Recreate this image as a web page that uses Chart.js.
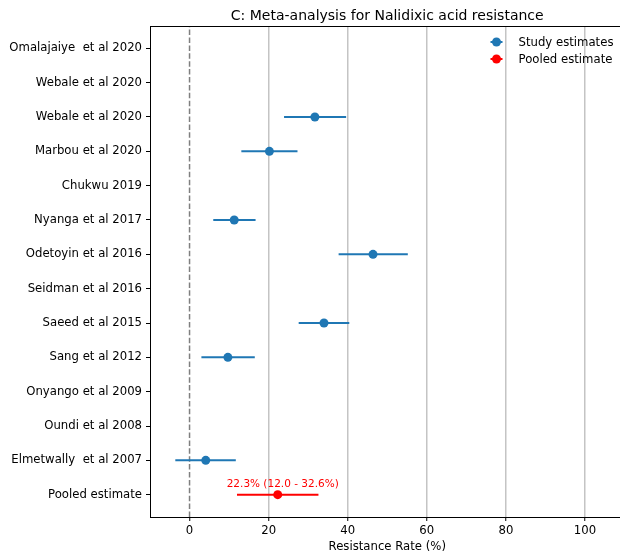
<!DOCTYPE html>
<html>
<head>
<meta charset="utf-8">
<script src="https://cdn.jsdelivr.net/npm/chart.js@4"></script>
<style>
  html, body { margin: 0; padding: 0; background: #fff; overflow: hidden; }
  #wrap { width: 629px; height: 555px; }
</style>
</head>
<body>
<div id="wrap"><canvas id="forest" width="629" height="555" style="width:629px;height:555px"></canvas></div>
<script>
const TITLE = 'C: Meta-analysis for Nalidixic acid resistance';
const X_LABEL = 'Resistance Rate (%)';
const FONT = 'DejaVu Sans';
const BLUE = '#1f77b4';
const RED = '#ff0000';

// rows from top to bottom
const studyNames = [
    'Omalajaiye  et al 2020', 'Webale et al 2020', 'Webale et al 2020', 'Marbou et al 2020',
    'Chukwu 2019', 'Nyanga et al 2017', 'Odetoyin et al 2016', 'Seidman et al 2016',
    'Saeed et al 2015', 'Sang et al 2012', 'Onyango et al 2009', 'Oundi et al 2008',
    'Elmetwally  et al 2007'
];
const studyEst  = [null, null, 31.7, 20.2, null, 11.3, 46.4, null, 34.0,  9.7, null, null,  4.1];
const studyLow  = [null, null, 23.9, 13.1, null,  6.0, 37.7, null, 27.6,  3.0, null, null, -3.6];
const studyHigh = [null, null, 39.6, 27.3, null, 16.7, 55.2, null, 40.4, 16.5, null, null, 11.7];

const pooledName = 'Pooled estimate';
const pooledEst = 22.3;
const pooledLow = 12.0;
const pooledHigh = 32.6;

const xTickValues = [0, 20, 40, 60, 80, 100];
const X_MIN = -10, X_MAX = 110;

const rowLabels = [...studyNames, pooledName];
const nRows = rowLabels.length;
const Y_MIN = -0.65, Y_MAX = nRows - 1 + 0.65;
const rowY = i => nRows - 1 - i;

const studyPts = [], studyBars = [];
studyEst.forEach((v, i) => {
    if (v === null) return;
    studyPts.push({ x: v, y: rowY(i) });
    studyBars.push({ x: studyLow[i], y: rowY(i) }, { x: studyHigh[i], y: rowY(i) });
});
const pooledY = rowY(nRows - 1);

// only every other segment is a bar, the rest join rows and stay hidden
const barSegment = color => ({ borderColor: c => (c.p0DataIndex % 2 === 0 ? color : 'rgba(0,0,0,0)') });

const frameAndText = {
    id: 'frameAndText',
    afterDraw(chart) {
        const { ctx, chartArea: a, scales } = chart;
        ctx.save();
        // top spine
        ctx.strokeStyle = '#000';
        ctx.lineWidth = 1;
        ctx.beginPath();
        ctx.moveTo(a.left, a.top + 0.5);
        ctx.lineTo(a.right, a.top + 0.5);
        ctx.stroke();

        // title
        ctx.fillStyle = '#000';
        ctx.font = `14px "${FONT}"`;
        ctx.textAlign = 'center';
        ctx.textBaseline = 'alphabetic';
        ctx.fillText(TITLE, (a.left + a.right) / 2, a.top - 6);

        // pooled annotation
        ctx.fillStyle = RED;
        ctx.font = `10.5px "${FONT}"`;
        ctx.textBaseline = 'middle';
        ctx.fillText(`${pooledEst.toFixed(1)}% (${pooledLow.toFixed(1)} - ${pooledHigh.toFixed(1)}%)`,
            scales.x.getPixelForValue(pooledEst) + 5, scales.y.getPixelForValue(pooledY) - 10);

        // legend
        const items = chart.data.datasets.filter(d => d.legendText);
        ctx.font = `11.7px "${FONT}"`;
        ctx.textAlign = 'left';
        items.forEach((d, k) => {
            const mx = a.right - 128, my = a.top + 16 + k * 17;
            ctx.strokeStyle = d.backgroundColor;
            ctx.lineWidth = 2;
            ctx.beginPath();
            ctx.moveTo(mx - 6, my);
            ctx.lineTo(mx + 6, my);
            ctx.stroke();
            ctx.fillStyle = d.backgroundColor;
            ctx.beginPath();
            ctx.arc(mx, my, 4.5, 0, Math.PI * 2);
            ctx.fill();
            ctx.fillStyle = '#000';
            ctx.fillText(d.legendText, a.right - 106, my + 0.5);
        });
        ctx.restore();
    }
};

const chart = new Chart(document.getElementById('forest'), {
    type: 'scatter',
    data: {
        datasets: [{
            legendText: 'Study estimates',
            data: studyPts,
            backgroundColor: BLUE,
            borderColor: BLUE,
            pointRadius: 4.5,
            pointBorderWidth: 0,
            order: 1
        }, {
            legendText: 'Pooled estimate',
            data: [{ x: pooledEst, y: pooledY }],
            backgroundColor: RED,
            borderColor: RED,
            pointRadius: 4.5,
            pointBorderWidth: 0,
            order: 1
        }, {
            type: 'line',
            data: studyBars,
            borderColor: BLUE,
            borderWidth: 2,
            pointRadius: 0,
            segment: barSegment(BLUE),
            order: 2
        }, {
            type: 'line',
            data: [{ x: pooledLow, y: pooledY }, { x: pooledHigh, y: pooledY }],
            borderColor: RED,
            borderWidth: 2,
            pointRadius: 0,
            order: 2
        }, {
            type: 'line',
            data: [{ x: 0, y: Y_MIN }, { x: 0, y: Y_MAX }],
            borderColor: '#7f7f7f',
            borderWidth: 1.5,
            borderDash: [5.5, 2.4],
            pointRadius: 0,
            order: 3
        }]
    },
    options: {
        responsive: false,
        animation: false,
        layout: { padding: { top: 26, left: 0, right: 0, bottom: 0 } },
        plugins: {
            legend: { display: false },
            tooltip: { enabled: false },
            title: { display: false }
        },
        scales: {
            x: {
                type: 'linear',
                min: X_MIN,
                max: X_MAX,
                afterBuildTicks: s => { s.ticks = xTickValues.map(v => ({ value: v })); },
                afterFit: s => { s.height = 38; },
                ticks: { color: '#000', padding: 3, maxRotation: 0, font: { family: FONT, size: 11.7 } },
                grid: {
                    color: c => (c.tick && c.tick.value === 0 ? 'rgba(0,0,0,0)' : 'rgba(176,176,176,0.75)'),
                    lineWidth: 1.5,
                    tickColor: '#000',
                    tickLength: 4,
                    tickWidth: 1
                },
                border: { color: '#000', width: 1 },
                title: {
                    display: true,
                    text: X_LABEL,
                    color: '#000',
                    padding: { top: 0, bottom: 1 },
                    font: { family: FONT, size: 11.7 }
                }
            },
            y: {
                type: 'linear',
                min: Y_MIN,
                max: Y_MAX,
                afterBuildTicks: s => { s.ticks = rowLabels.map((_, i) => ({ value: rowY(i) })); },
                afterFit: s => { s.width = 150; },
                ticks: {
                    color: '#000',
                    padding: 4,
                    font: { family: FONT, size: 11.7 },
                    callback: v => rowLabels[nRows - 1 - v]
                },
                grid: {
                    drawOnChartArea: false,
                    tickColor: '#000',
                    tickLength: 4,
                    tickWidth: 1
                },
                border: { color: '#000', width: 1 }
            }
        }
    },
    plugins: [frameAndText]
});
</script>
</body>
</html>
